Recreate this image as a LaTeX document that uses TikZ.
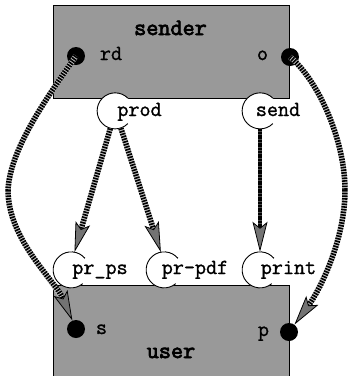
\documentclass[tikz,border=0pt]{standalone}
\usepackage{fontspec}
\usetikzlibrary{arrows.meta}
\newfontfamily\tx[FakeBold=1.3]{Latin Modern Mono}
\newfontfamily\txb[FakeBold=3.2]{Latin Modern Mono}
\colorlet{boxgray}{black!40}
\colorlet{ropegray}{black!22}
\tikzset{
  box/.style={draw=black, line width=0.9pt, fill=boxgray, inner sep=0},
  port/.style={circle, fill=black, inner sep=0, minimum size=18pt},
  proc/.style={circle, fill=white, inner sep=0, minimum size=36pt},
  procarc/.style={draw=black, line width=0.9pt},
  lbl/.style={font=\tx\fontsize{21.5}{24}\selectfont, inner sep=0, anchor=base},
  ttl/.style={font=\txb\fontsize{23.5}{26}\selectfont, inner sep=0, anchor=base},
  ropebase/.style={draw=ropegray, line width=5.5pt, shorten >=18pt},
  ropestripe/.style={draw=black, line width=5.5pt, dash pattern=on 1.6pt off 1.1pt,
    -{Stealth[length=30pt, width=15pt, inset=6pt, line width=0.8pt, fill=black!55]}},
}
\newcommand\myrope[2][]{\draw[ropebase,#1] #2; \draw[ropestripe,#1] #2;}
\begin{document}
\begin{tikzpicture}[x=1pt, y=-1pt]
\useasboundingbox (0,0) rectangle (349,376);
\clip (0,0) rectangle (349,376);
% boxes
\node[box, minimum width=236pt, minimum height=93pt] (sender) at (171,51.5) {};
\node[box, minimum width=236pt, minimum height=100pt] (user) at (171,335) {};
% process circles
\node[proc] (prod) at (115,111) {};
\node[proc] (send) at (260,111) {};
\node[proc] (prps) at (71,270) {};
\node[proc] (prpdf) at (164,270) {};
\node[proc] (print) at (260,270) {};
\foreach \p/\a/\b in {prod/45/315, send/45/315, prps/40/310, prpdf/40/310, print/40/310}
  \draw[procarc] (\p.\a) arc[start angle=\a, end angle=\b, radius=18pt];
% texts
\node[ttl] (tsender) at (170.5,35) {sender};
\node[ttl] (tuser) at (171,358) {user};
\node[lbl] (trd) at (111,60) {rd};
\node[lbl] (to) at (262.5,60) {o};
\node[lbl] (ts) at (101.5,334) {s};
\node[lbl] (tp) at (263.5,336) {p};
\node[lbl] (tprod) at (139.5,116) {prod};
\node[lbl] (tsend) at (278,116) {send};
\node[lbl] (tprps) at (100,274) {pr\_ps};
\node[lbl] (tprpdf) at (195,274) {pr–pdf};
\node[lbl] (tprint) at (288.5,274) {print};
% ports
\node[port] (rd) at (76,56) {};
\node[port] (o) at (290,57) {};
\node[port] (s) at (76,329) {};
\node[port] (p) at (289,332) {};
\coordinate (lw) at (8,190);
\coordinate (rw) at (345,190);
% connectors
\draw[ropebase, shorten >=0pt] (rd.center) .. controls (45,100) and (10,150) .. (lw);
\draw[ropestripe, -] (rd.center) .. controls (45,100) and (10,150) .. (lw);
\myrope{(lw) .. controls (8,240) and (55,280) .. (s)}
\draw[ropebase, shorten >=0pt] (o.center) .. controls (318,80) and (345,140) .. (rw);
\draw[ropestripe, -] (o.center) .. controls (318,80) and (345,140) .. (rw);
\myrope{(rw) .. controls (345,240) and (320,290) .. (p)}
\myrope{(prod.-105) -- (prps.79)}
\myrope{(prod.-71) -- (prpdf.100)}
\draw[ropebase, draw=black!70, line width=3.5pt] (send.-90) -- (print.90);
\draw[ropestripe, line width=3.5pt, dash pattern=on 2pt off 0.7pt] (send.-90) -- (print.90);
\end{tikzpicture}
\end{document}
